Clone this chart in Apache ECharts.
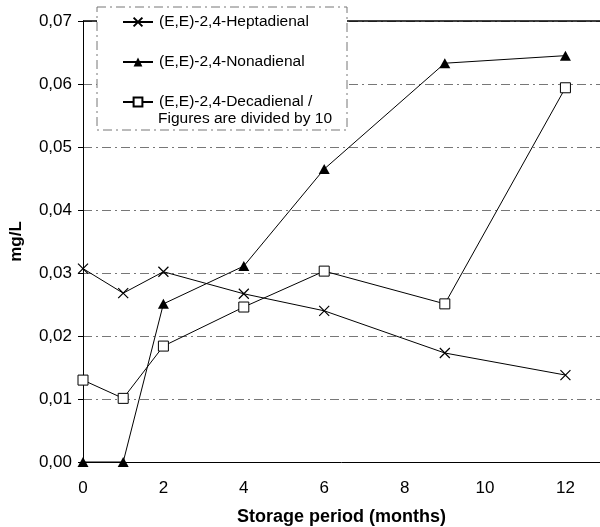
<!DOCTYPE html>
<html>
<head>
<meta charset="utf-8">
<script src="https://cdn.jsdelivr.net/npm/echarts@6/dist/echarts.min.js"></script>
<style>html,body{margin:0;padding:0;background:#fff}#c{width:600px;height:527px}</style>
</head>
<body>
<div id="c"></div>
<script>
var months = [0, 1, 2, 4, 6, 9, 12];
var heptadienal = [0.0307, 0.0268, 0.0302, 0.0267, 0.0240, 0.0173, 0.0138];
var nonadienal = [0.0000, 0.0000, 0.0251, 0.0311, 0.0465, 0.0633, 0.0645];
var decadienal = [0.0130, 0.0101, 0.0184, 0.0246, 0.0303, 0.0251, 0.0594];
var xTicks = [0, 2, 4, 6, 8, 10, 12];
var yTicks = ['0,00', '0,01', '0,02', '0,03', '0,04', '0,05', '0,06', '0,07'];

function pairs(xs, ys) { return xs.map(function (x, i) { return [x, ys[i]]; }); }

var FONT = 'Liberation Sans, Arial, sans-serif';
var chart = echarts.init(document.getElementById('c'));
chart.setOption({
  animation: false,
  backgroundColor: '#fff',
  textStyle: { fontFamily: FONT, color: '#000' },
  grid: { left: 83, top: 21, right: 0, bottom: 65, containLabel: false, outerBoundsMode: 'none' },
  xAxis: {
    type: 'value', min: 0, max: 12.86, interval: 2,
    name: 'Storage period (months)', nameLocation: 'middle', nameGap: 46,
    nameTextStyle: { fontFamily: FONT, fontSize: 18, fontWeight: 'bold', color: '#000' },
    axisLine: { lineStyle: { color: '#000', width: 1 } },
    axisTick: { show: false },
    axisLabel: {
      fontFamily: FONT, fontSize: 17, color: '#000', margin: 18, showMaxLabel: false,
      formatter: function (v) { return xTicks.indexOf(v) >= 0 ? String(v) : ''; }
    },
    splitLine: { show: false }
  },
  yAxis: {
    type: 'value', min: 0, max: 0.07, interval: 0.01,
    name: 'mg/L', nameLocation: 'middle', nameGap: 58,
    nameTextStyle: { fontFamily: FONT, fontSize: 17, fontWeight: 'bold', color: '#000' },
    axisLine: { show: true, lineStyle: { color: '#000', width: 1 } },
    axisTick: { show: true, length: 5, lineStyle: { color: '#000' } },
    axisLabel: {
      fontFamily: FONT, fontSize: 17, color: '#000', margin: 11,
      formatter: function (v) { return yTicks[Math.round(v * 100)]; }
    },
    splitLine: { show: true, lineStyle: { color: '#777', width: 1, type: [9, 4, 2, 4] } }
  },
  legend: {
    orient: 'vertical', left: 97, top: 7, z: 10,
    padding: [7, 15, 28, 25], itemGap: 24, itemWidth: 30, itemHeight: 11,
    backgroundColor: 'rgba(0,0,0,0)', borderWidth: 0,
    textStyle: { fontFamily: FONT, fontSize: 15.5, color: '#000', padding: [0, 0, 0, 1] },
    data: ['(E,E)-2,4-Heptadienal', '(E,E)-2,4-Nonadienal', '(E,E)-2,4-Decadienal /']
  },
  graphic: [
    { type: 'rect', z: 8, shape: { x: 97, y: 7, width: 250, height: 123 },
      style: { fill: '#fff', stroke: '#777', lineWidth: 1, lineDash: [9, 4, 2, 4] } },
    { type: 'text', z: 11, x: 158, y: 119,
      style: { text: 'Figures are divided by 10', font: '15.5px ' + FONT, fill: '#000', verticalAlign: 'middle' } }
  ],
  series: [
    {
      name: '(E,E)-2,4-Heptadienal', type: 'line', data: pairs(months, heptadienal),
      symbol: 'path://M0,0L10,10M10,0L0,10', symbolSize: 10,
      lineStyle: { color: '#000', width: 1 },
      itemStyle: { color: 'none', borderColor: '#000', borderWidth: 1.2 },
      markLine: {
        silent: true, symbol: 'none', label: { show: false }, z: 1,
        lineStyle: { color: '#000', width: 1.5, type: 'solid' },
        data: [{ yAxis: 0.07 }]
      }
    },
    {
      name: '(E,E)-2,4-Nonadienal', type: 'line', data: pairs(months, nonadienal),
      symbol: 'triangle', symbolSize: [11, 10],
      lineStyle: { color: '#000', width: 1 },
      itemStyle: { color: '#000', borderColor: '#000', borderWidth: 0 }
    },
    {
      name: '(E,E)-2,4-Decadienal /', type: 'line', data: pairs(months, decadienal),
      symbol: 'rect', symbolSize: 10,
      lineStyle: { color: '#000', width: 1 },
      itemStyle: { color: '#fff', borderColor: '#000', borderWidth: 1 }
    }
  ]
});
</script>
</body>
</html>
